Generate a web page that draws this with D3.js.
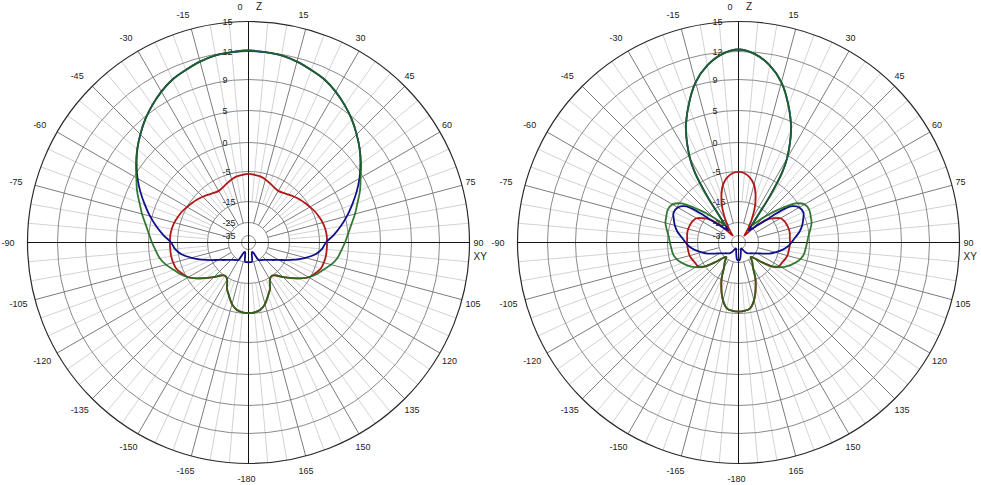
<!DOCTYPE html>
<html>
<head>
<meta charset="utf-8">
<script src="https://cdn.jsdelivr.net/npm/d3@7"></script>
<style>
  body { margin: 0; background: #fff; }
  svg text { font-family: "Liberation Sans", Arial, sans-serif; font-size: 9px; fill: #222; }
</style>
</head>
<body>
<svg id="chart"></svg>
<script>
const width = 981
const height = 485

// dB rings and angle tick labels
const ringValues = [15, 12, 9, 5, 0, -5, -15, -25, -35]
const angleLabels = [0, 15, 30, 45, 60, 75, 90, 105, 120, 135, 150, 165, -180, -165, -150, -135, -120, -105, -90, -75, -60, -45, -30, -15]

// left pattern (degrees from Z, clockwise) and gains in dB
const leftAngles = [-180, -175, -170, -165, -160, -155, -150, -145, -140, -135, -130, -125, -120, -115, -110, -105, -100, -95, -90, -85, -80, -75, -70, -65, -60, -55, -50, -45, -40, -35, -30, -25, -20, -15, -10, -5, 0, 5, 10, 15, 20, 25, 30, 35, 40, 45, 50, 55, 60, 65, 70, 75, 80, 85, 90, 95, 100, 105, 110, 115, 120, 125, 130, 135, 140, 145, 150, 155, 160, 165, 170, 175, 180]
const leftBlue = [-25.2, -25.2, -25.4, -30.4, -32.6, -31.9, -24.9, -24.3, -23.7, -22.8, -21.6, -20.0, -17.9, -14.8, -12.0, -9.0, -6.0, -4.5, -3.9, -2.5, -1.1, 0.3, 1.6, 3.0, 4.4, 5.6, 6.7, 7.7, 8.7, 9.5, 10.2, 10.8, 11.2, 11.6, 11.9, 12.0, 12.1, 12.0, 11.9, 11.6, 11.2, 10.8, 10.2, 9.5, 8.7, 7.7, 6.7, 5.6, 4.4, 3.0, 1.6, 0.3, -1.1, -2.5, -3.9, -4.5, -6.0, -9.0, -12.0, -14.8, -17.9, -20.0, -21.6, -22.8, -23.7, -24.3, -24.9, -31.9, -32.6, -30.4, -25.4, -25.2, -25.2]
const leftRed = [-5.2, -5.3, -5.9, -7.4, -9.7, -11.7, -14.4, -15.2, -14.3, -12.3, -10.3, -7.8, -5.5, -4.6, -4.0, -3.8, -3.7, -3.7, -3.7, -3.7, -3.8, -4.0, -4.3, -4.6, -5.0, -5.7, -6.4, -7.1, -7.8, -8.5, -8.8, -8.4, -7.7, -6.9, -6.3, -6.0, -5.8, -6.0, -6.3, -6.9, -7.7, -8.4, -8.8, -8.5, -7.8, -7.1, -6.4, -5.7, -5.0, -4.6, -4.3, -4.0, -3.8, -3.7, -3.7, -3.7, -3.7, -3.8, -4.0, -4.6, -5.5, -7.8, -10.3, -12.3, -14.3, -15.2, -14.4, -11.7, -9.7, -7.4, -5.9, -5.3, -5.2]
const leftGreen = [-5.2, -5.3, -5.9, -7.4, -9.7, -11.7, -14.4, -15.2, -14.3, -12.3, -10.3, -7.8, -5.5, -4.3, -3.5, -2.5, -1.7, -1.2, -0.6, 0.0, 0.7, 1.6, 2.5, 3.6, 4.6, 5.7, 6.7, 7.7, 8.7, 9.5, 10.2, 10.8, 11.2, 11.6, 11.9, 12.0, 12.1, 12.0, 11.9, 11.6, 11.2, 10.8, 10.2, 9.5, 8.7, 7.7, 6.7, 5.7, 4.6, 3.6, 2.5, 1.6, 0.7, 0.0, -0.6, -1.2, -1.7, -2.5, -3.5, -4.3, -5.5, -7.8, -10.3, -12.3, -14.3, -15.2, -14.4, -11.7, -9.7, -7.4, -5.9, -5.3, -5.2]

// right pattern
const rightAngles = [-180, -175, -170, -165, -160, -155, -150, -145, -140, -135, -130, -125, -120, -115, -110, -105, -100, -95, -90, -85, -80, -75, -70, -65, -60, -56, -54, -52, -50, -48, -46, -44, -42, -40, -38, -36, -34, -32, -30, -25, -20, -15, -10, -5, 0, 5, 10, 15, 20, 25, 30, 32, 34, 36, 38, 40, 42, 44, 46, 48, 50, 52, 54, 56, 60, 65, 70, 75, 80, 85, 90, 95, 100, 105, 110, 115, 120, 125, 130, 135, 140, 145, 150, 155, 160, 165, 170, 175, 180]
const rightBlue = [-26.4, -27.3, -30.8, -33.5, -35.0, -35.7, -34.2, -31.2, -29.5, -28.6, -27.5, -25.8, -24.2, -22.1, -19.0, -16.4, -14.0, -12.3, -11.0, -9.7, -8.0, -6.7, -5.7, -4.9, -5.3, -7.0, -9.3, -14.0, -19.3, -22.1, -24.0, -25.8, -27.3, -28.1, -25.0, -20.2, -9.7, -3.1, -0.5, 3.8, 6.8, 9.3, 10.8, 11.8, 12.2, 11.8, 10.8, 9.3, 6.8, 3.8, -0.5, -3.1, -9.7, -20.2, -25.0, -28.1, -27.3, -25.8, -24.0, -22.1, -19.3, -14.0, -9.3, -7.0, -5.3, -4.9, -5.7, -6.7, -8.0, -9.7, -11.0, -12.3, -14.0, -16.4, -19.0, -22.1, -24.2, -25.8, -27.5, -28.6, -29.5, -31.2, -34.2, -35.7, -35.0, -33.5, -30.8, -27.3, -26.4]
const rightRed = [-5.6, -5.8, -6.4, -8.7, -12.0, -15.5, -20.7, -23.1, -25.8, -24.1, -19.8, -14.7, -13.0, -12.7, -12.2, -11.8, -11.7, -11.6, -11.5, -11.5, -11.3, -11.3, -11.5, -11.8, -12.5, -14.2, -15.0, -16.4, -18.3, -21.2, -24.5, -28.8, -31.9, -33.5, -31.9, -29.6, -26.5, -24.1, -22.1, -16.2, -12.0, -8.7, -6.7, -5.5, -5.1, -5.5, -6.7, -8.7, -12.0, -16.2, -22.1, -24.1, -26.5, -29.6, -31.9, -33.5, -31.9, -28.8, -24.5, -21.2, -18.3, -16.4, -15.0, -14.2, -12.5, -11.8, -11.5, -11.3, -11.3, -11.5, -11.5, -11.6, -11.7, -11.8, -12.2, -12.7, -13.0, -14.7, -19.8, -24.1, -25.8, -23.1, -20.7, -15.5, -12.0, -8.7, -6.4, -5.8, -5.6]
const rightGreen = [-5.6, -5.8, -6.4, -8.7, -12.0, -15.5, -20.7, -23.1, -25.8, -24.1, -19.8, -14.7, -12.2, -10.3, -8.7, -7.3, -6.5, -6.2, -5.8, -5.3, -4.7, -4.2, -4.0, -3.8, -4.1, -5.3, -7.3, -9.7, -12.0, -14.0, -16.4, -18.8, -21.2, -23.1, -24.1, -20.2, -9.7, -3.1, -0.5, 3.8, 6.8, 9.3, 10.8, 11.8, 12.2, 11.8, 10.8, 9.3, 6.8, 3.8, -0.5, -3.1, -9.7, -20.2, -24.1, -23.1, -21.2, -18.8, -16.4, -14.0, -12.0, -9.7, -7.3, -5.3, -4.1, -3.8, -4.0, -4.2, -4.7, -5.3, -5.8, -6.2, -6.5, -7.3, -8.7, -10.3, -12.2, -14.7, -19.8, -24.1, -25.8, -23.1, -20.7, -15.5, -12.0, -8.7, -6.4, -5.8, -5.6]

const svg = d3.select('#chart')
  .attr('width', width)
  .attr('height', height)

svg.append('rect').attr('width', width).attr('height', height).attr('fill', '#fff')

const outerR = 221
// the dB axis is compressed toward the centre, so map it piece by piece
const r = d3.scaleLinear()
  .domain([-45, -35, -25, -15, -5, 0, 5, 9, 12, 15])
  .range([0, 7, 20, 41, 71, 100, 132, 163, 191, outerR])
  .clamp(true)

const minorSpokes = d3.range(0, 360, 5).filter(a => a % 15 !== 0)
const majorSpokes = d3.range(0, 360, 15).filter(a => a % 90 !== 0)

const px = (a, rr) => rr * Math.sin(a * Math.PI / 180)
const py = (a, rr) => -rr * Math.cos(a * Math.PI / 180)

function drawPlot (cx, cy, angles, series) {
  const g = svg.append('g').attr('transform', `translate(${cx},${cy})`)

  g.selectAll('line.minor').data(minorSpokes).enter().append('line')
    .attr('class', 'minor')
    .attr('x1', a => px(a, r(-15))).attr('y1', a => py(a, r(-15)))
    .attr('x2', a => px(a, outerR)).attr('y2', a => py(a, outerR))
    .attr('stroke', '#d3d3d3')

  g.selectAll('circle.ring').data(ringValues.slice(1)).enter().append('circle')
    .attr('class', 'ring')
    .attr('r', d => r(d))
    .attr('fill', 'none')
    .attr('stroke', '#8a8a8a')

  g.selectAll('line.major').data(majorSpokes).enter().append('line')
    .attr('class', 'major')
    .attr('x1', a => px(a, r(-25))).attr('y1', a => py(a, r(-25)))
    .attr('x2', a => px(a, outerR)).attr('y2', a => py(a, outerR))
    .attr('stroke', '#7c7c7c')

  g.append('circle').attr('r', outerR).attr('fill', 'none')
    .attr('stroke', '#2a2a2a').attr('stroke-width', 1.2)

  g.append('line').attr('x1', -outerR).attr('x2', outerR).attr('stroke', '#111')
  g.append('line').attr('y1', -outerR).attr('y2', outerR).attr('stroke', '#111')

  g.selectAll('text.ring').data(ringValues).enter().append('text')
    .attr('class', 'ring')
    .attr('x', -26)
    .attr('y', d => -r(d))
    .attr('dy', '0.35em')
    .text(d => d)

  g.selectAll('text.angle').data(angleLabels).enter().append('text')
    .attr('class', 'angle')
    .attr('x', a => px(a, 236) - 11)
    .attr('y', a => py(a, 236))
    .attr('dy', '0.35em')
    .text(a => a)

  g.append('text').attr('x', 7.5).attr('y', -236).attr('dy', '0.35em')
    .style('font-size', '10px').text('Z')
  g.append('text').attr('x', 225).attr('y', 14).attr('dy', '0.35em')
    .style('font-size', '10px').text('XY')

  const line = d3.lineRadial()
    .angle((d, i) => angles[i] * Math.PI / 180)
    .radius(d => r(d))
    .curve(d3.curveCatmullRom)

  series.forEach(s => {
    g.append('path')
      .attr('d', line(s.values))
      .attr('fill', 'none')
      .attr('stroke', s.color)
      .attr('stroke-opacity', s.opacity)
      .attr('stroke-width', 1.8)
      .attr('stroke-linejoin', 'round')
  })
}

drawPlot(248.5, 242.5, leftAngles, [
  { values: leftRed, color: '#b01818', opacity: 1 },
  { values: leftBlue, color: '#10108a', opacity: 1 },
  { values: leftGreen, color: '#1d6a1d', opacity: 0.9 }
])

drawPlot(738.5, 242.5, rightAngles, [
  { values: rightRed, color: '#b01818', opacity: 1 },
  { values: rightBlue, color: '#10108a', opacity: 1 },
  { values: rightGreen, color: '#1d6a1d', opacity: 0.9 }
])
</script>
</body>
</html>
